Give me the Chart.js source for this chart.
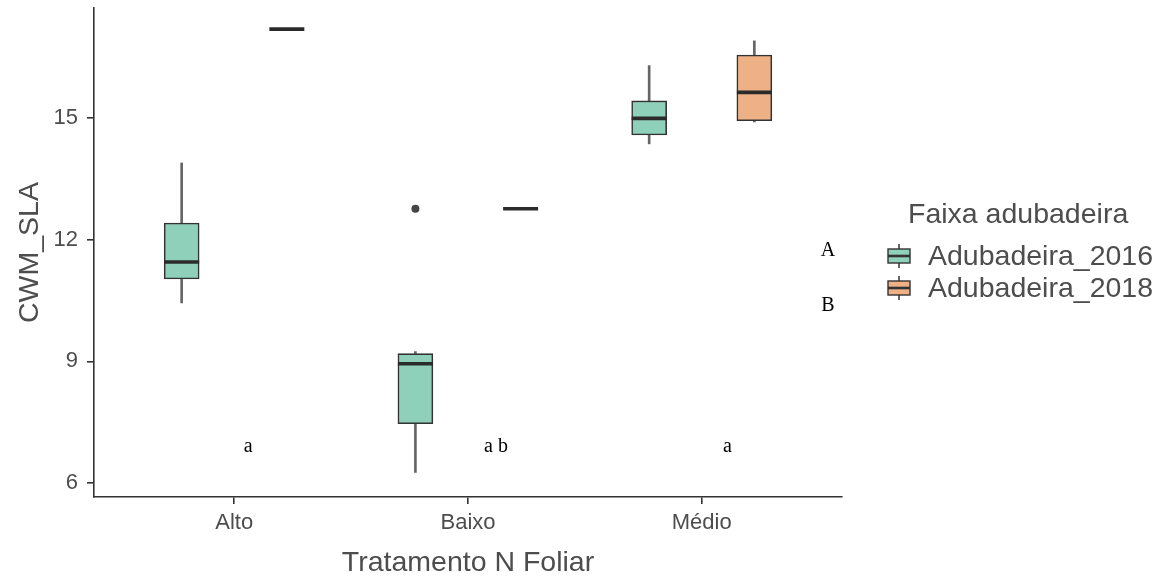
<!DOCTYPE html>
<html>
<head>
<meta charset="utf-8">
<script src="https://cdn.jsdelivr.net/npm/chart.js@4.4.1/dist/chart.umd.min.js"></script>
<style>
  html, body { margin: 0; padding: 0; background: #ffffff; }
  #wrap { width: 1165px; height: 577px; }
</style>
</head>
<body>
<div id="wrap"><canvas id="c" width="1165" height="577"></canvas></div>
<script>
// Categories and series
const categories = ['Alto', 'Baixo', 'Médio'];
const seriesNames = ['Adubadeira_2016', 'Adubadeira_2018'];

// Box summaries, Adubadeira_2016 (whisker low, Q1, median, Q3, whisker high)
const low2016  = [10.44, 6.26, 14.36];
const q1_2016  = [11.03, 7.46, 14.58];
const med2016  = [11.45, 8.94, 14.99];
const q3_2016  = [12.41, 9.19, 15.42];
const high2016 = [13.89, 9.24, 16.29];
const out2016  = [[], [12.76], []];

// Box summaries, Adubadeira_2018
const low2018  = [17.19, 12.76, 14.90];
const q1_2018  = [17.19, 12.76, 14.93];
const med2018  = [17.19, 12.76, 15.63];
const q3_2018  = [17.19, 12.76, 16.55];
const high2018 = [17.19, 12.76, 16.90];
const out2018  = [[], [], []];

// Axis ticks
const yTicks = [6, 9, 12, 15];
const xTicks = [1, 2, 3];

// Significance letters (data coordinates)
const groupLetters = ['a', 'a b', 'a'];
const groupLetterX = [1.06, 2.12, 3.11];
const groupLetterY = [6.9, 6.9, 6.9];
const yearLetters = ['A', 'B'];
const yearLetterX = [3.54, 3.54];
const yearLetterY = [11.72, 10.37];

// Styling
const fills = ['#8fd0bb', '#edb185'];
const boxLine = '#333333';
const whiskerColor = '#666666';
const sans = '"Liberation Sans", Arial, sans-serif';
const serif = '"Liberation Serif", "Times New Roman", serif';
const textGrey = '#4d4d4d';
const dodge = 0.225;

const summaries = [
  { low: low2016, q1: q1_2016, med: med2016, q3: q3_2016, high: high2016, out: out2016, off: -dodge },
  { low: low2018, q1: q1_2018, med: med2018, q3: q3_2018, high: high2018, out: out2018, off: dodge }
];

const datasets = [];
summaries.forEach((s, k) => {
  const xs = categories.map((c, i) => i + 1 + s.off);
  // whiskers
  datasets.push({
    type: 'bar', grouped: false, order: 4,
    data: xs.flatMap((x, i) => [
      { x: x, y: [s.low[i], s.q1[i]] },
      { x: x, y: [s.q3[i], s.high[i]] }
    ]),
    barThickness: 2, backgroundColor: whiskerColor, borderWidth: 0
  });
  // boxes
  datasets.push({
    type: 'bar', grouped: false, order: 3,
    data: xs.map((x, i) => ({ x: x, y: [s.q1[i], s.q3[i]] })),
    barThickness: 35, backgroundColor: fills[k], borderColor: boxLine,
    borderWidth: 1.6, borderSkipped: false
  });
  // medians
  datasets.push({
    type: 'scatter', order: 2,
    data: xs.map((x, i) => ({ x: x, y: s.med[i] })),
    pointStyle: 'line', radius: 17.5, borderColor: '#2b2b2b', borderWidth: 3.6
  });
  // outliers
  datasets.push({
    type: 'scatter', order: 1,
    data: xs.flatMap((x, i) => s.out[i].map(v => ({ x: x, y: v }))),
    pointStyle: 'circle', radius: 4, backgroundColor: '#454545', borderWidth: 0
  });
});

// Annotation letters and legend
const extras = {
  id: 'extras',
  afterDraw(chart) {
    const ctx = chart.ctx;
    const xs = chart.scales.x, ys = chart.scales.y;
    ctx.save();
    ctx.fillStyle = '#000';
    ctx.textAlign = 'center';
    ctx.textBaseline = 'middle';
    ctx.font = '20px ' + serif;
    groupLetters.forEach((t, i) => {
      ctx.fillText(t, xs.getPixelForValue(groupLetterX[i]), ys.getPixelForValue(groupLetterY[i]));
    });
    yearLetters.forEach((t, i) => {
      ctx.fillText(t, xs.getPixelForValue(yearLetterX[i]), ys.getPixelForValue(yearLetterY[i]));
    });

    // legend
    ctx.textAlign = 'left';
    ctx.fillStyle = textGrey;
    ctx.font = '28.5px ' + sans;
    ctx.fillText('Faixa adubadeira', 908, 215);
    seriesNames.forEach((name, i) => {
      const cy = 256 + i * 32;
      const x0 = 888, w = 22, cx = x0 + w / 2;
      ctx.strokeStyle = whiskerColor;
      ctx.lineWidth = 2;
      ctx.beginPath();
      ctx.moveTo(cx, cy - 12); ctx.lineTo(cx, cy + 12);
      ctx.stroke();
      ctx.fillStyle = fills[i];
      ctx.fillRect(x0, cy - 7, w, 14);
      ctx.strokeStyle = boxLine;
      ctx.lineWidth = 1.4;
      ctx.strokeRect(x0, cy - 7, w, 14);
      ctx.lineWidth = 2.6;
      ctx.beginPath();
      ctx.moveTo(x0, cy); ctx.lineTo(x0 + w, cy);
      ctx.stroke();
      ctx.fillStyle = textGrey;
      ctx.font = '28.5px ' + sans;
      ctx.fillText(name, 928, cy + 1);
    });
    ctx.restore();
  }
};

const axisLine = { display: true, color: '#333333', width: 1.6 };

new Chart(document.getElementById('c'), {
  type: 'bar',
  data: { datasets: datasets },
  options: {
    responsive: false,
    animation: false,
    events: [],
    layout: { autoPadding: false, padding: { left: 0, top: 8, right: 323, bottom: 0 } },
    plugins: { legend: { display: false }, tooltip: { enabled: false } },
    scales: {
      x: {
        type: 'linear', min: 0.4, max: 3.6, offset: false,
        afterBuildTicks: s => { s.ticks = xTicks.map(v => ({ value: v })); },
        afterFit: s => { s.height = 80; s.paddingLeft = 0; s.paddingRight = 0; },
        grid: { offset: false, drawOnChartArea: false, drawTicks: true, tickLength: 7, color: '#333333', lineWidth: 1.6 },
        border: axisLine,
        ticks: {
          callback: v => categories[v - 1],
          font: { family: sans, size: 22 }, color: textGrey,
          padding: 6, maxRotation: 0, autoSkip: false
        },
        title: {
          display: true, text: 'Tratamento N Foliar',
          font: { family: sans, size: 28.5, lineHeight: 1 }, color: textGrey,
          padding: { top: 0, bottom: 0 }
        }
      },
      y: {
        type: 'linear', min: 5.655, max: 17.71,
        afterBuildTicks: s => { s.ticks = yTicks.map(v => ({ value: v })); },
        afterFit: s => { s.width = 94; s.paddingTop = 0; s.paddingBottom = 0; },
        grid: { drawOnChartArea: false, drawTicks: true, tickLength: 7, color: '#333333', lineWidth: 1.6 },
        border: axisLine,
        ticks: { font: { family: sans, size: 22 }, color: textGrey, padding: 9 },
        title: {
          display: true, text: 'CWM_SLA',
          font: { family: sans, size: 28.5 }, color: textGrey,
          padding: { top: 13, bottom: 0 }
        }
      }
    }
  },
  plugins: [extras]
});
</script>
</body>
</html>
